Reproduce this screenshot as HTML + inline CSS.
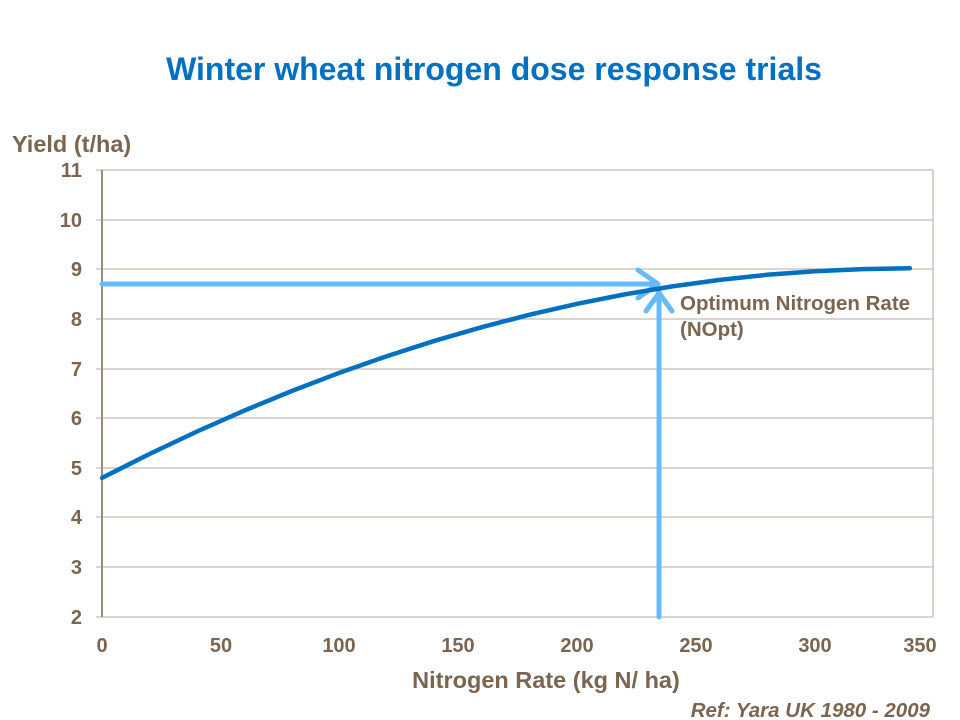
<!DOCTYPE html>
<html><head><meta charset="utf-8"><style>html,body{margin:0;padding:0;background:#fff}svg{display:block}</style></head>
<body>
<svg width="960" height="720" xmlns="http://www.w3.org/2000/svg" font-family="Liberation Sans, Arial, sans-serif" font-weight="bold">
<text x="494" y="80" text-anchor="middle" font-size="32" fill="#0070c0">Winter wheat nitrogen dose response trials</text>
<g stroke="#c4bcb2" stroke-width="1.3">
<line x1="96" y1="170" x2="933" y2="170"/>
<line x1="96" y1="220" x2="933" y2="220"/>
<line x1="96" y1="269" x2="933" y2="269"/>
<line x1="96" y1="319" x2="933" y2="319"/>
<line x1="96" y1="369" x2="933" y2="369"/>
<line x1="96" y1="418" x2="933" y2="418"/>
<line x1="96" y1="468" x2="933" y2="468"/>
<line x1="96" y1="517" x2="933" y2="517"/>
<line x1="96" y1="567" x2="933" y2="567"/>
<line x1="96" y1="617" x2="933" y2="617"/>
<line x1="933" y1="170" x2="933" y2="617"/>
</g>
<line x1="102" y1="170" x2="102" y2="617" stroke="#9a8c7c" stroke-width="2"/>
<g font-size="20" fill="#7a6650" text-anchor="end">
<text x="82" y="177">11</text><text x="82" y="227">10</text><text x="82" y="276">9</text><text x="82" y="326">8</text><text x="82" y="376">7</text><text x="82" y="425">6</text><text x="82" y="475">5</text><text x="82" y="524">4</text><text x="82" y="574">3</text><text x="82" y="624">2</text>
</g>
<g font-size="20" fill="#7a6650" text-anchor="middle">
<text x="102" y="652">0</text><text x="221" y="652">50</text><text x="339" y="652">100</text><text x="458" y="652">150</text><text x="577" y="652">200</text><text x="696" y="652">250</text><text x="815" y="652">300</text><text x="920" y="652">350</text>
</g>
<text x="12" y="152" font-size="23.5" fill="#7a6650">Yield (t/ha)</text>
<text x="546" y="688" text-anchor="middle" font-size="23.5" fill="#7a6650">Nitrogen Rate (kg N/ ha)</text>
<text x="930" y="717" text-anchor="end" font-size="20.5" font-style="italic" fill="#7a6650">Ref: Yara UK 1980 - 2009</text>
<g stroke="#66bbff" stroke-width="5" fill="none" stroke-linecap="round" stroke-linejoin="round">
<line x1="102" y1="284" x2="656" y2="284"/>
<polyline points="638,270 658,284 638,298"/>
<line x1="659" y1="617" x2="659" y2="292"/>
<polyline points="646,311 659,293 672,311"/>
</g>
<polyline fill="none" stroke="#0070c0" stroke-width="4.5" stroke-linecap="round" points="102,477.9 149.5,454 197,431.5 244.6,410.5 292.1,390.9 339.6,372.7 387.1,356.1 434.6,340.8 482.2,327.1 529.7,314.7 577.2,303.8 624.7,294.4 672.2,286.4 719.8,279.9 767.3,274.8 814.8,271.2 862.3,269.1 909.8,268.3"/>
<text x="680" y="310" font-size="20.5" fill="#7a6650">Optimum Nitrogen Rate</text>
<text x="680" y="336" font-size="20.5" fill="#7a6650">(NOpt)</text>
</svg>
</body></html>
